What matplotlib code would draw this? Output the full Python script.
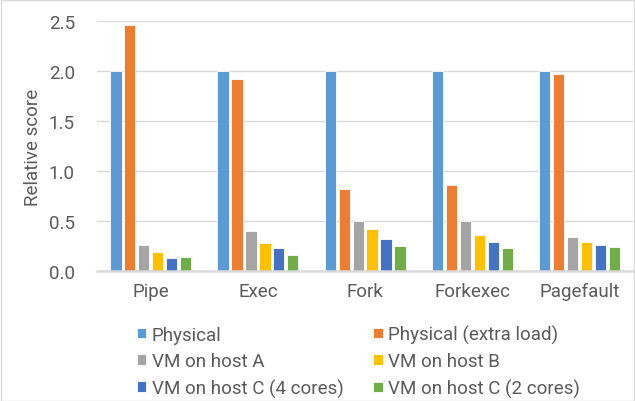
import numpy as np
import matplotlib.pyplot as plt
from matplotlib.patches import Rectangle

plt.rcParams['font.family'] = ['Roboto', 'DejaVu Sans']

benchmarks = ['Pipe', 'Exec', 'Fork', 'Forkexec', 'Pagefault']
series = ['Physical', 'Physical (extra load)', 'VM on host A', 'VM on host B',
          'VM on host C (4 cores)', 'VM on host C (2 cores)']
physical = [2.0, 2.0, 2.0, 2.0, 2.0]
physical_load = [2.46, 1.92, 0.82, 0.86, 1.97]
vm_a = [0.26, 0.40, 0.50, 0.50, 0.34]
vm_b = [0.19, 0.28, 0.42, 0.36, 0.29]
vm_c4 = [0.13, 0.23, 0.32, 0.29, 0.26]
vm_c2 = [0.14, 0.16, 0.25, 0.23, 0.24]
colors = ['#5B9BD5', '#ED7D31', '#A5A5A5', '#FFC000', '#4472C4', '#70AD47']

text_color = '#5a5a5a'
grid_color = '#D9D9D9'
fs = 13.5

fig = plt.figure(figsize=(6.35, 4.02), dpi=100)
ax = fig.add_axes([0.153, 0.324, 0.844, 0.621])

x = np.arange(len(benchmarks))
stride = 0.13
width = 0.105
all_values = [physical, physical_load, vm_a, vm_b, vm_c4, vm_c2]
bars = []
for i, (vals, name, col) in enumerate(zip(all_values, series, colors)):
    bars.append(ax.bar(x + (i - 2.5) * stride, vals, width, color=col, label=name,
                       edgecolor='white', linewidth=0.6, zorder=3))

ax.set_xlim(-0.5, len(benchmarks) - 0.5)
ax.set_ylim(0, 2.5)
ticks = np.arange(0, 2.51, 0.5)
ax.set_yticks(ticks)
ax.set_yticklabels([f'{v:.1f}' for v in ticks])
ax.set_xticks(x)
ax.set_xticklabels(benchmarks)
ax.tick_params(axis='both', length=0, labelsize=fs, colors=text_color)
ax.tick_params(axis='x', pad=8)
ax.tick_params(axis='y', pad=16)
ax.set_ylabel('Relative score', fontsize=fs, color=text_color, labelpad=5)

ax.grid(axis='y', color=grid_color, linewidth=1, zorder=0)
for s in ['top', 'right', 'left']:
    ax.spines[s].set_visible(False)
ax.spines['bottom'].set_color(grid_color)
ax.spines['bottom'].set_linewidth(1.8)
ax.spines['bottom'].set_zorder(4)

# legend fills row by row: two series per row
order = [0, 2, 4, 1, 3, 5]
leg = fig.legend([bars[i] for i in order], [series[i] for i in order],
                 loc='upper left', bbox_to_anchor=(0.215, 0.19), ncol=2,
                 frameon=False, fontsize=fs, handlelength=0.5, handleheight=0.5,
                 handletextpad=0.3, columnspacing=1.6, labelspacing=0.45,
                 borderaxespad=0, borderpad=0)
for t in leg.get_texts():
    t.set_color(text_color)

fig.patches.append(Rectangle((0.001, 0.001), 0.997, 0.996, transform=fig.transFigure,
                             fill=False, edgecolor=grid_color, linewidth=1))

fig.savefig('out.png', dpi=100)
